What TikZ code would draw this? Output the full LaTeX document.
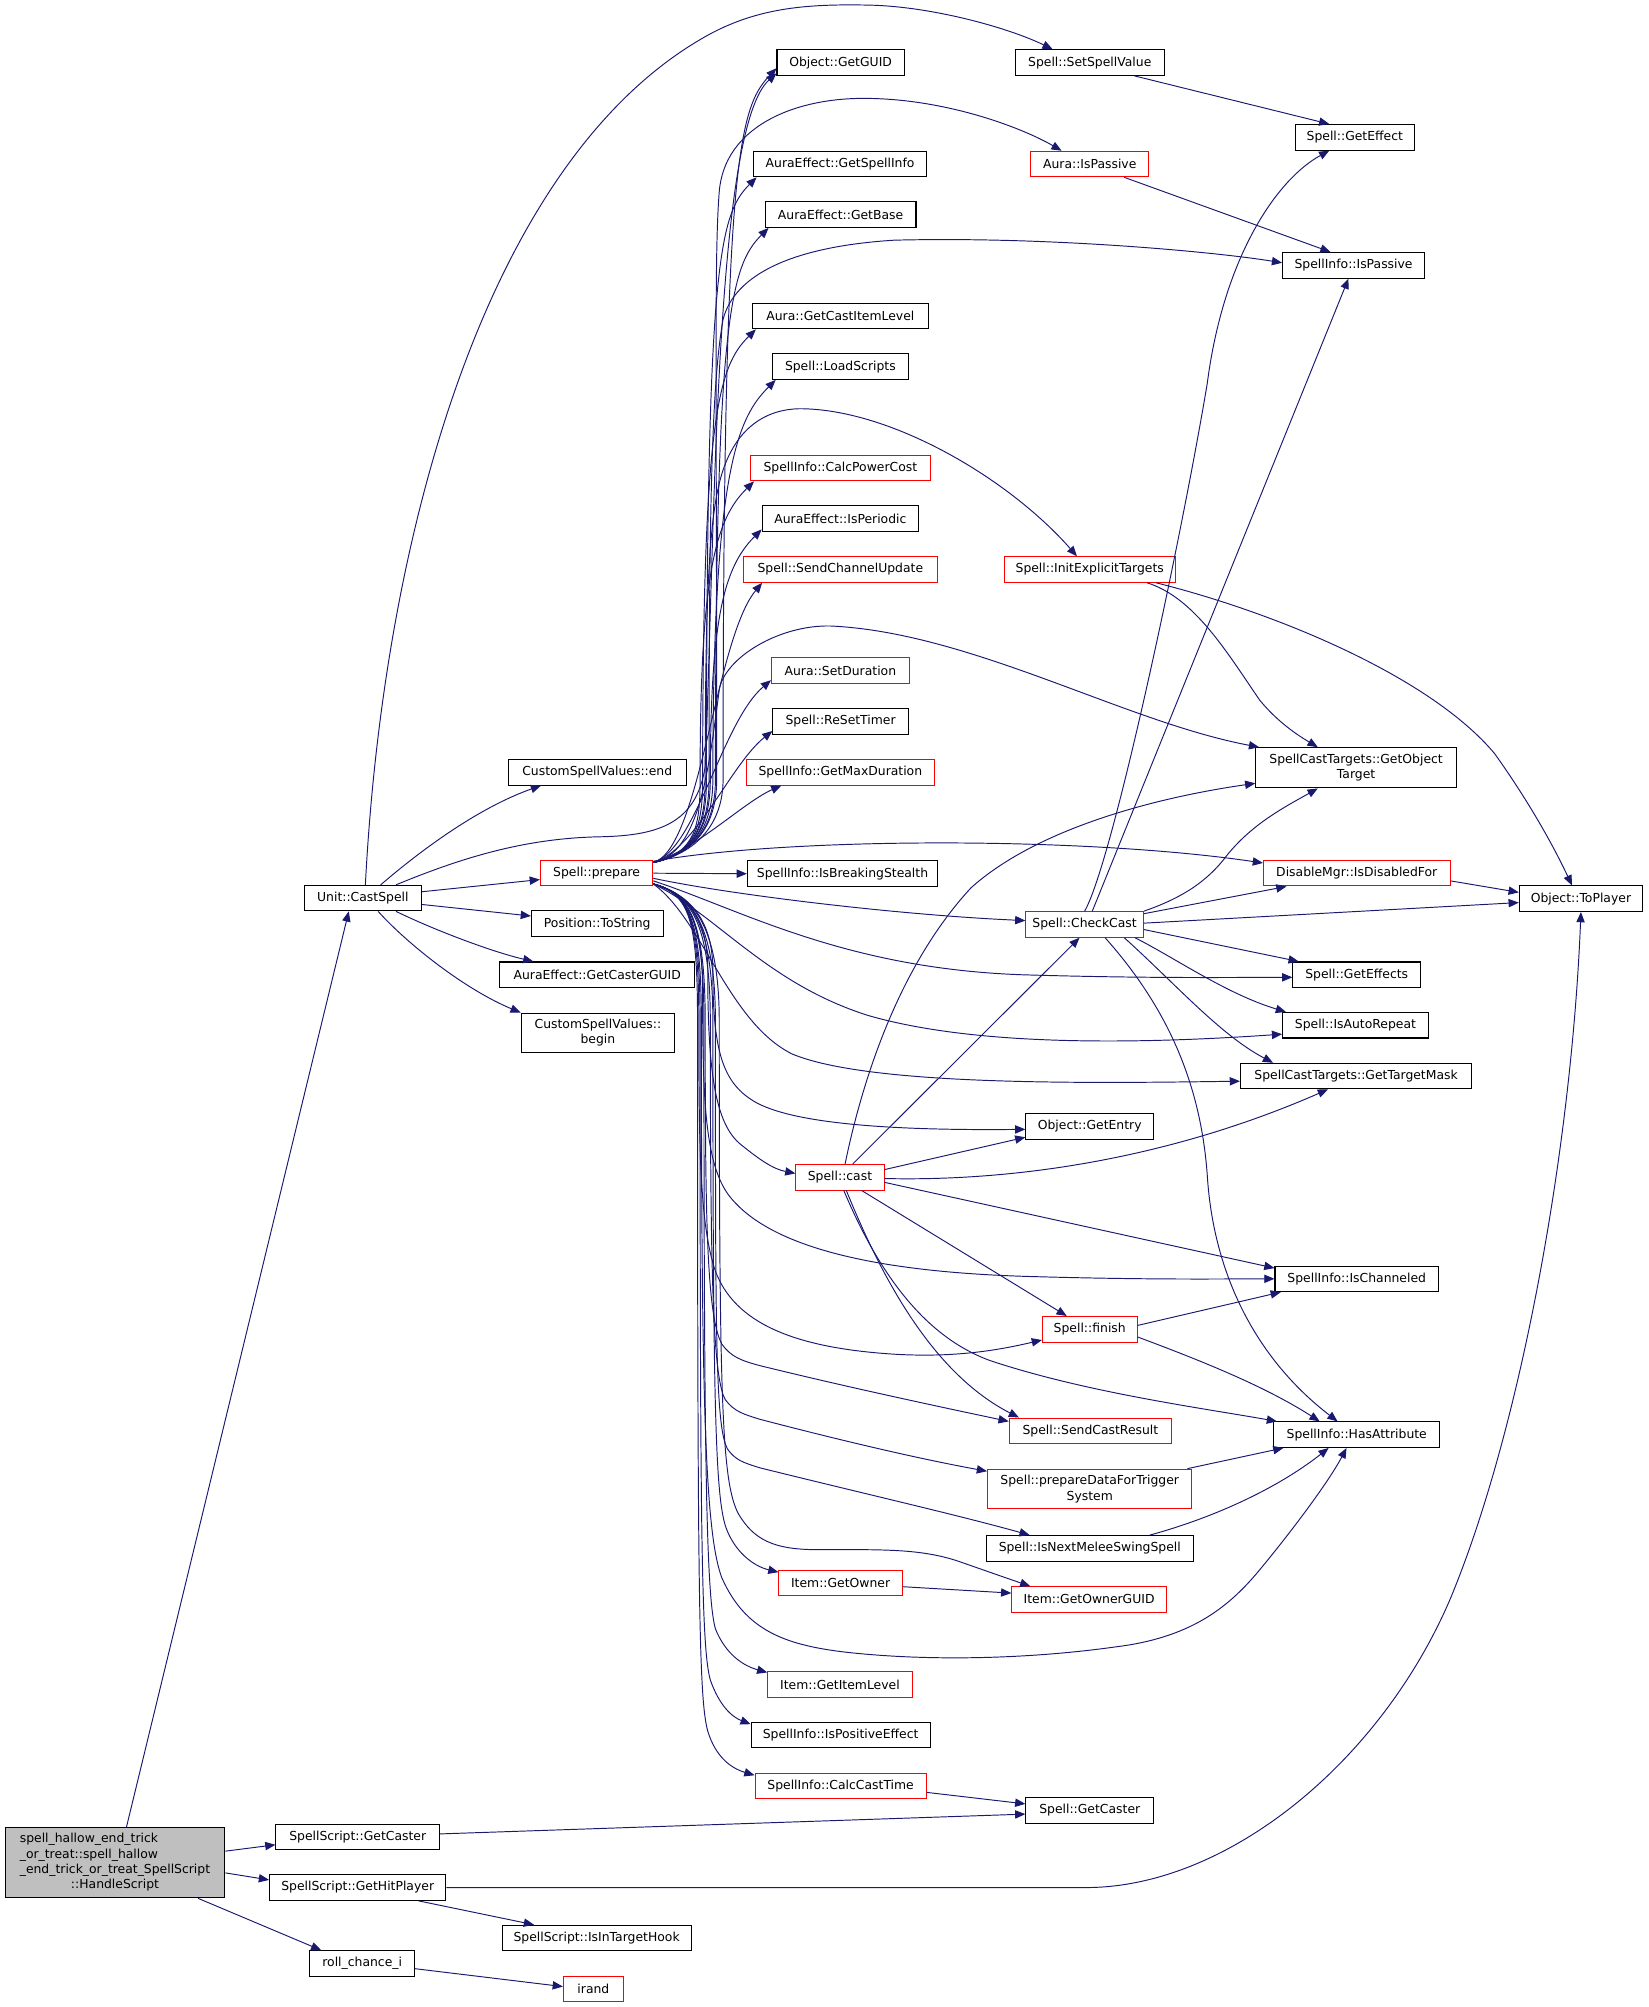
\documentclass[tikz,border=0pt]{standalone}
\usepackage{fontspec}
\setmainfont{DejaVu Sans}
\usetikzlibrary{arrows.meta}
\definecolor{edgecol}{RGB}{25,25,112}
\definecolor{nodered}{RGB}{255,0,0}
\definecolor{hsgray}{RGB}{191,191,191}
\newcommand\dfont{\fontsize{9.7pt}{12pt}\selectfont}
\begin{document}
\begin{tikzpicture}[x=1pt,y=-1pt,
  box/.style={draw=black, fill=white, line width=0.8pt, inner xsep=3pt, inner ysep=0pt, minimum height=20pt, font=\dfont, align=center},
  rbox/.style={box, draw=nodered},
  ed/.style={draw=edgecol, line width=0.75pt, -{Triangle[length=8pt,width=6.5pt]}}]
\useasboundingbox (0,0) rectangle (1290,1571);
% ---------- nodes ----------
\node[box, fill=hsgray, minimum width=172pt, minimum height=55pt] (hs) at (90,1458) {\begin{tabular}{@{}l@{}}spell\_hallow\_end\_trick\\\_or\_treat::spell\_hallow\\\_end\_trick\_or\_treat\_SpellScript\\\multicolumn{1}{@{}c@{}}{::HandleScript}\end{tabular}};
\node[box, minimum width=92pt] (cs) at (284,703) {Unit::CastSpell};
\node[box, minimum width=128pt] (ssgc) at (280,1438) {SpellScript::GetCaster};
\node[box, minimum width=138pt] (ssghp) at (280,1477.5) {SpellScript::GetHitPlayer};
\node[box, minimum width=82pt] (rci) at (283.5,1537) {roll\_chance\_i};
\node[box, minimum width=139pt] (cend) at (467.5,604.5) {CustomSpellValues::end};
\node[rbox, minimum width=88pt] (prep) at (467,683.5) {Spell::prepare};
\node[box, minimum width=103pt] (pts) at (467.5,723) {Position::ToString};
\node[box, minimum width=153pt] (gcg) at (467.5,763) {AuraEffect::GetCasterGUID};
\node[box, minimum width=120pt, minimum height=31pt] (cbeg) at (468,808.5) {CustomSpellValues::\\begin};
\node[box, minimum width=148pt] (ith) at (467,1517) {SpellScript::IsInTargetHook};
\node[rbox, minimum width=47pt] (irand) at (464.5,1557) {irand};
\node[box, minimum width=99.6pt] (guid) at (658,49) {Object::GetGUID};
\node[box, minimum width=136pt] (gsi) at (657.6,128.4) {AuraEffect::GetSpellInfo};
\node[box, minimum width=118pt] (gbase) at (658,168) {AuraEffect::GetBase};
\node[box, minimum width=137.5pt] (gcil) at (657.8,247.4) {Aura::GetCastItemLevel};
\node[box, minimum width=106.5pt] (lsc) at (657.8,287) {Spell::LoadScripts};
\node[rbox, minimum width=140.4pt] (cpc) at (657.8,366.4) {SpellInfo::CalcPowerCost};
\node[box, minimum width=122.4pt] (iper) at (657.8,406) {AuraEffect::IsPeriodic};
\node[rbox, minimum width=151.7pt] (scu) at (657.8,445.8) {Spell::SendChannelUpdate};
\node[rbox, minimum width=107.7pt] (sdur) at (657.8,525) {Aura::SetDuration};
\node[box, minimum width=106pt] (rst) at (658,564.8) {Spell::ReSetTimer};
\node[rbox, minimum width=147.6pt] (gmd) at (657.8,604.5) {SpellInfo::GetMaxDuration};
\node[box, minimum width=149pt] (ibs) at (659.5,683.9) {SpellInfo::IsBreakingStealth};
\node[rbox, minimum width=69pt] (cast) at (657.5,921.5) {Spell::cast};
\node[rbox, minimum width=96.5pt] (gown) at (658,1239) {Item::GetOwner};
\node[rbox, minimum width=113pt] (gil) at (657.5,1318.5) {Item::GetItemLevel};
\node[box, minimum width=140pt] (ipe) at (658,1358) {SpellInfo::IsPositiveEffect};
\node[rbox, minimum width=134pt] (cct) at (658,1398) {SpellInfo::CalcCastTime};
\node[box, minimum width=116.5pt] (ssv) at (853,49) {Spell::SetSpellValue};
\node[rbox, minimum width=92.2pt] (aip) at (853,128.4) {Aura::IsPassive};
\node[rbox, minimum width=134pt] (iet) at (853,445.8) {Spell::InitExplicitTargets};
\node[rbox, minimum width=92pt] (cc) at (849,723.6) {Spell::CheckCast};
\node[box, minimum width=100pt] (gent) at (853,881.8) {Object::GetEntry};
\node[rbox, minimum width=74pt] (fin) at (853,1040.5) {Spell::finish};
\node[rbox, minimum width=127pt] (scr) at (853.5,1120) {Spell::SendCastResult};
\node[rbox, minimum width=160pt, minimum height=31pt] (pdt) at (853,1165.5) {Spell::prepareDataForTrigger\\System};
\node[box, minimum width=162pt] (inm) at (853,1212) {Spell::IsNextMeleeSwingSpell};
\node[rbox, minimum width=121pt] (gog) at (852.5,1252) {Item::GetOwnerGUID};
\node[box, minimum width=100pt] (sgc) at (853,1417) {Spell::GetCaster};
\node[box, minimum width=93pt] (geff) at (1060.5,107.5) {Spell::GetEffect};
\node[box, minimum width=111pt] (sip) at (1059.5,207.7) {SpellInfo::IsPassive};
\node[box, minimum width=157pt, minimum height=31.5pt] (got) at (1061.5,601) {SpellCastTargets::GetObject\\Target};
\node[rbox, minimum width=146pt] (dis) at (1062,683.5) {DisableMgr::IsDisabledFor};
\node[box, minimum width=100pt] (geffs) at (1062,763) {Spell::GetEffects};
\node[box, minimum width=114pt] (iar) at (1061,802.5) {Spell::IsAutoRepeat};
\node[box, minimum width=181pt] (gtm) at (1061.5,842.3) {SpellCastTargets::GetTargetMask};
\node[box, minimum width=128pt] (ich) at (1062,1001) {SpellInfo::IsChanneled};
\node[box, minimum width=130pt] (hattr) at (1062,1123) {SpellInfo::HasAttribute};
\node[box, minimum width=96.5pt] (top) at (1237.5,703.5) {Object::ToPlayer};
% ---------- HandleScript ----------
\draw[ed] ([xshift=9pt]hs.north) -- ([xshift=-11pt]cs.south);
\draw[ed] ([yshift=9pt]hs.east) -- ([yshift=-6pt]ssgc.west);
\draw[ed] ([yshift=-8pt]hs.east) -- ([yshift=6pt]ssghp.west);
\draw[ed] ([xshift=65pt]hs.south) -- ([xshift=-32pt]rci.north);
\draw[ed] ([yshift=-4pt]rci.east) -- ([yshift=2pt]irand.west);
\draw[ed] ([xshift=47.6pt]ssghp.south) -- ([xshift=-49pt]ith.north);
\draw[ed] (ssghp.east) -- (850,1477.5) .. controls (960,1477.5) and (1080,1380) .. (1135,1252) .. controls (1190,1120) and (1230,900) .. (top.south);
\draw[ed] ([yshift=2.5pt]ssgc.east) -- ([yshift=-3pt]sgc.west);
\draw[ed] ([yshift=-5pt]cct.east) -- ([yshift=5pt]sgc.west);
% ---------- CastSpell ----------
\draw[ed] ([xshift=2pt]cs.north) .. controls (300,420) and (380,130) .. (548,31) .. controls (590,6) and (630,3) .. (680,4) .. controls (730,5) and (790,22) .. ([xshift=-29pt]ssv.north);
\draw[ed] ([xshift=14pt]cs.north) .. controls (330,665) and (375,632) .. ([xshift=-44pt]cend.south);
\draw[ed] ([xshift=26pt]cs.north) .. controls (360,672) and (410,656) .. (470,655) .. controls (515,654) and (545,645) .. (552,600) .. controls (560,400) and (560,100) .. ([yshift=2pt]guid.south west);
\draw[ed] ([yshift=5pt]cs.east) -- ([yshift=-5pt]prep.west);
\draw[ed] ([yshift=-5pt]cs.east) -- ([yshift=6pt]pts.west);
\draw[ed] ([xshift=26pt]cs.south) .. controls (340,728) and (385,745) .. ([xshift=-50pt]gcg.north);
\draw[ed] ([xshift=12pt]cs.south) .. controls (320,740) and (365,775) .. (cbeg.north west);
% ---------- prepare: upward ----------
\draw[ed] ([yshift=-2pt]prep.north east) .. controls (545,668) and (566,645) .. (566,610) .. controls (566,125) and (578,85) .. ([yshift=6pt]guid.south west);
\draw[ed] ([yshift=-2pt]prep.north east) .. controls (545,668) and (553,645) .. (553,610) .. controls (553,208) and (562.6,168.4) .. ([xshift=3pt]gsi.south west);
\draw[ed] ([yshift=-2pt]prep.north east) .. controls (545,668) and (560,645) .. (560,610) .. controls (560,248) and (572,208) .. ([xshift=3pt]gbase.south west);
\draw[ed] ([yshift=-2pt]prep.north east) .. controls (545,668) and (550,645) .. (550,610) .. controls (550,327) and (562,287) .. ([xshift=3pt]gcil.south west);
\draw[ed] ([yshift=-2pt]prep.north east) .. controls (545,668) and (558,645) .. (558,610) .. controls (558,367) and (577.5,327) .. ([xshift=3pt]lsc.south west);
\draw[ed] ([yshift=-2pt]prep.north east) .. controls (545,668) and (548,645) .. (548,610) .. controls (548,446) and (560.6,406) .. ([xshift=3pt]cpc.south west);
\draw[ed] ([yshift=-2pt]prep.north east) .. controls (545,668) and (556,645) .. (556,610) .. controls (556,484) and (566.6,444) .. ([yshift=2pt]iper.south west);
\draw[ed] ([yshift=-2pt]prep.north east) .. controls (548,665) and (560,500) .. ([xshift=15pt]scu.south west);
\draw[ed] ([yshift=-2pt]prep.north east) .. controls (545,665) and (565,565) .. ([yshift=3pt]sdur.south west);
\draw[ed] ([yshift=-2pt]prep.north east) .. controls (545,665) and (572,598) .. ([yshift=3pt]rst.south west);
\draw[ed] ([yshift=-2pt]prep.north east) .. controls (545,665) and (582,628) .. ([xshift=28pt]gmd.south west);
\draw[ed] ([yshift=-2pt]prep.north east) .. controls (545,668) and (561,645) .. (561,610) .. controls (561,300) and (559,200) .. (563,150) .. controls (567,100) and (620,77) .. (676,77) .. controls (740,77) and (800,100) .. ([xshift=-22pt]aip.north);
\draw[ed] ([yshift=-2pt]prep.north east) .. controls (545,668) and (555,645) .. (555,610) .. controls (555,400) and (557,300) .. (566,250) .. controls (575,215) and (620,193) .. (700,188) .. controls (820,185) and (950,197) .. ([yshift=2pt]sip.west);
\draw[ed] ([yshift=-2pt]prep.north east) .. controls (545,668) and (552,645) .. (552,610) .. controls (552,450) and (556,395) .. (567,365) .. controls (580,330) and (605,319) .. (630,320) .. controls (700,322) and (790,375) .. ([xshift=-10pt]iet.north);
\draw[ed] ([yshift=-2pt]prep.north east) .. controls (548,668) and (555,600) .. (563,540) .. controls (567,515) and (610,489) .. (650,490) .. controls (760,495) and (880,565) .. ([xshift=3pt]got.north west);
% ---------- prepare: sideways ----------
\draw[ed] ([yshift=-1pt]prep.north east) .. controls (620,655) and (850,655) .. ([yshift=8pt]dis.west);
\draw[ed] (prep.east) -- (ibs.west);
\draw[ed] ([yshift=-4pt]prep.east) .. controls (570,700) and (700,716) .. ([yshift=3pt]cc.west);
\draw[ed] ([yshift=-6pt]prep.east) .. controls (580,712) and (660,758) .. (800,763) .. controls (900,766) and (970,765) .. ([yshift=-2pt]geffs.west);
\draw[ed] ([yshift=2pt]prep.south east) .. controls (560,715) and (600,770) .. (680,795) .. controls (760,818) and (880,818) .. ([yshift=-7pt]iar.west);
\draw[ed] ([yshift=2pt]prep.south east) .. controls (550,720) and (570,800) .. (620,825) .. controls (680,850) and (850,848) .. ([yshift=-4pt]gtm.west);
% ---------- prepare: downward ----------
\draw[ed] ([yshift=2pt]prep.south east) .. controls (540,700) and (558,720) .. (558,760) .. controls (558,820) and (565,845) .. (587,860) .. controls (615,880) and (700,885) .. ([yshift=-2.2pt]gent.west);
\draw[ed] ([yshift=2pt]prep.south east) .. controls (540,700) and (554,720) .. (554,760) .. controls (554,840) and (560,880) .. (580,896) .. controls (595,908) and (605,915) .. ([yshift=3pt]cast.west);
\draw[ed] ([yshift=2pt]prep.south east) .. controls (540,700) and (550,720) .. (550,780) .. controls (550,860) and (552,910) .. (570,935) .. controls (600,975) and (680,995) .. (800,999) .. controls (900,1002) and (960,1001) .. (ich.west);
\draw[ed] ([yshift=2pt]prep.south east) .. controls (540,700) and (547,720) .. (547,800) .. controls (547,900) and (548,960) .. (560,995) .. controls (575,1035) and (620,1055) .. (700,1060) .. controls (750,1063) and (785,1056) .. ([yshift=2pt]fin.south west);
\draw[ed] ([yshift=2pt]prep.south east) .. controls (540,700) and (552,720) .. (552,800) .. controls (552,950) and (553,1030) .. (565,1052) .. controls (572,1062) and (580,1065) .. (595,1069) .. controls (660,1085) and (730,1100) .. ([yshift=-3pt]scr.north west);
\draw[ed] ([yshift=2pt]prep.south east) .. controls (540,700) and (556,720) .. (556,800) .. controls (556,1000) and (558,1080) .. (568,1096) .. controls (575,1105) and (582,1107) .. (595,1111) .. controls (660,1128) and (720,1142) .. ([yshift=-2pt]pdt.north west);
\draw[ed] ([yshift=2pt]prep.south east) .. controls (540,700) and (560,720) .. (560,800) .. controls (560,1050) and (560,1120) .. (570,1135) .. controls (576,1143) and (582,1145) .. (595,1149) .. controls (680,1170) and (750,1186) .. ([xshift=-47pt]inm.north);
\draw[ed] ([yshift=2pt]prep.south east) .. controls (540,700) and (563,720) .. (563,800) .. controls (563,1100) and (565,1160) .. (578,1185) .. controls (590,1205) and (605,1213) .. (640,1213) .. controls (690,1213) and (720,1212) .. (750,1222) .. controls (770,1229) and (790,1236) .. ([xshift=-46pt]gog.north);
\draw[ed] ([yshift=2pt]prep.south east) .. controls (540,700) and (549,720) .. (549,800) .. controls (549,1100) and (552,1200) .. (565,1235) .. controls (585,1280) and (620,1290) .. (680,1295) .. controls (740,1300) and (810,1298) .. (874,1289) .. controls (930,1282) and (960,1260) .. (985,1230) .. controls (1010,1200) and (1040,1160) .. ([xshift=-8pt]hattr.south);
\draw[ed] ([yshift=2pt]prep.south east) .. controls (540,700) and (558,720) .. (558,800) .. controls (558,1100) and (560,1170) .. (568,1195) .. controls (575,1215) and (590,1226) .. ([yshift=-2pt]gown.north west);
\draw[ed] ([yshift=2pt]prep.south east) .. controls (540,700) and (551,720) .. (551,800) .. controls (551,1150) and (553,1250) .. (560,1275) .. controls (568,1295) and (582,1304) .. ([yshift=-1pt]gil.north west);
\draw[ed] ([yshift=2pt]prep.south east) .. controls (540,700) and (548,720) .. (548,800) .. controls (548,1200) and (549,1290) .. (556,1315) .. controls (563,1335) and (573,1344) .. ([yshift=-2pt]ipe.north west);
\draw[ed] ([yshift=2pt]prep.south east) .. controls (540,700) and (546,720) .. (546,800) .. controls (546,1250) and (547,1330) .. (554,1355) .. controls (560,1375) and (572,1384) .. ([yshift=-2pt]cct.north west);
% ---------- others ----------
\draw[ed] ([xshift=35pt]ssv.south) -- ([xshift=-20pt]geff.north);
\draw[ed] ([xshift=27pt]aip.south) -- ([xshift=-18pt]sip.north);
\draw[ed] ([xshift=45pt]iet.south) .. controls (935,468) and (960,510) .. (986,548) .. controls (1000,565) and (1015,575) .. ([xshift=-30pt]got.north);
\draw[ed] ([xshift=52pt]iet.south) .. controls (1000,480) and (1120,530) .. (1170,590) .. controls (1195,625) and (1215,660) .. ([xshift=-7pt]top.north);
\draw[ed] (cc.north) .. controls (871,675) and (925,420) .. (945,300) .. controls (958,200) and (1000,140) .. ([xshift=-20pt]geff.south);
\draw[ed] ([xshift=6pt]cc.north) -- ([xshift=-4pt]sip.south);
\draw[ed] (cc.north east) .. controls (925,703) and (945,690) .. (960,670) .. controls (980,645) and (1005,632) .. ([xshift=-30pt]got.south);
\draw[ed] ([yshift=-2pt]cc.north east) -- ([xshift=-55pt]dis.south);
\draw[ed] ([yshift=1pt]cc.east) -- ([yshift=-3pt]top.west);
\draw[ed] ([yshift=-6pt]dis.east) -- ([yshift=5pt]top.west);
\draw[ed] ([yshift=-4pt]cc.east) -- ([xshift=5pt]geffs.north west);
\draw[ed] ([xshift=-7pt]cc.south east) .. controls (920,750) and (960,778) .. ([xshift=3pt]iar.north west);
\draw[ed] ([xshift=31pt]cc.south) .. controls (920,770) and (955,810) .. ([xshift=-65pt]gtm.north);
\draw[ed] ([xshift=16pt]cc.south) .. controls (915,790) and (940,850) .. (945,920) .. controls (950,1000) and (985,1065) .. ([xshift=-15pt]hattr.north);
\draw[ed] ([xshift=4pt]cast.north) .. controls (673,855) and (700,760) .. (760,695) .. controls (810,650) and (900,625) .. ([yshift=4pt]got.south west);
\draw[ed] ([xshift=10pt]cast.north) -- ([xshift=-4pt]cc.south);
\draw[ed] ([yshift=6pt]cast.east) -- ([yshift=2pt]gent.south west);
\draw[ed] ([yshift=-1pt]cast.east) .. controls (800,925) and (920,905) .. ([xshift=-22pt]gtm.south);
\draw[ed] ([yshift=-4pt]cast.east) -- ([yshift=-2pt]ich.north west);
\draw[ed] ([xshift=17pt]cast.south) -- ([xshift=-18pt]fin.north);
\draw[ed] ([xshift=5pt]cast.south) .. controls (690,1000) and (730,1075) .. ([xshift=8pt]scr.north west);
\draw[ed] ([xshift=3pt]cast.south) .. controls (685,990) and (720,1045) .. (775,1065) .. controls (850,1090) and (940,1102) .. ([xshift=3pt]hattr.north west);
\draw[ed] ([yshift=3pt]fin.east) -- ([xshift=5pt]ich.south west);
\draw[ed] ([yshift=-6pt]fin.east) .. controls (940,1065) and (990,1085) .. ([xshift=-29pt]hattr.north);
\draw[ed] ([xshift=-4pt]pdt.north east) -- ([xshift=8pt]hattr.south west);
\draw[ed] ([xshift=47pt]inm.north) .. controls (950,1188) and (1000,1165) .. ([xshift=-22pt]hattr.south);
\draw[ed] ([yshift=-3pt]gown.east) -- ([yshift=5pt]gog.west);
\end{tikzpicture}
\end{document}
